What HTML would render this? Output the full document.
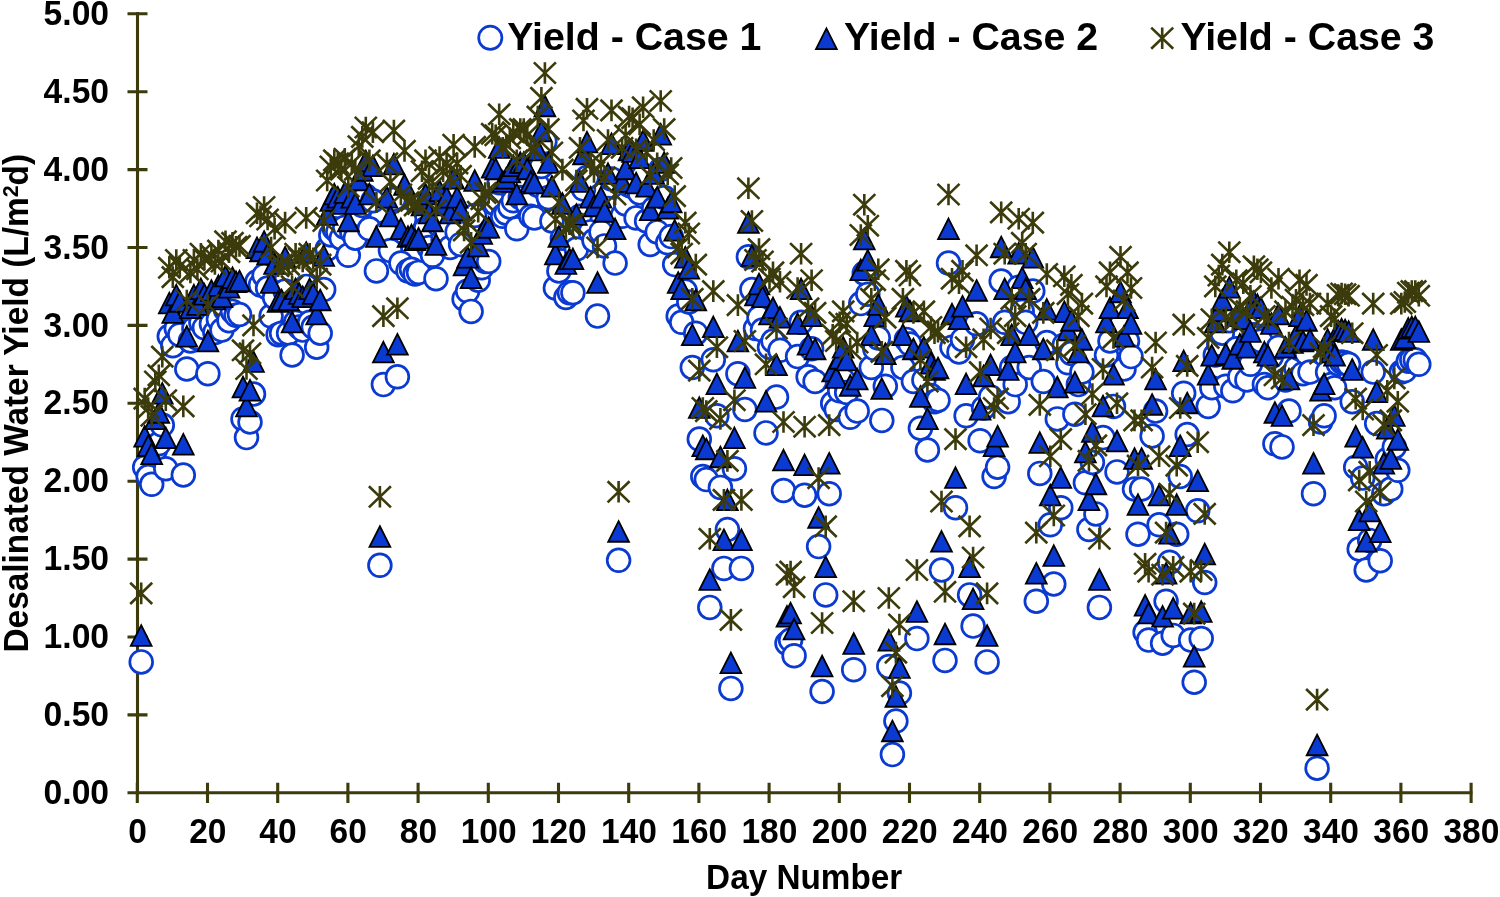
<!DOCTYPE html>
<html lang="en"><head><meta charset="utf-8"><title>Desalinated Water Yield</title>
<style>
html,body{margin:0;padding:0;background:#fff;}
body{width:1500px;height:897px;overflow:hidden;}
svg{display:block;filter:blur(0.5px);}
text{font-family:"Liberation Sans",Arial,sans-serif;font-weight:bold;fill:#000;}
.t{font-size:33.5px;}
.lg{font-size:39.3px;}
.c{fill:#fff;stroke:#0a3ad2;stroke-width:2.7;}
.tr{fill:#0a3ad2;stroke:#000;stroke-width:1.8;stroke-linejoin:miter;}
.a{stroke:#3b3b0b;stroke-width:2.6;fill:none;}
.ax{stroke:#3b3b0b;stroke-width:3.1;fill:none;}
</style></head><body>
<svg width="1500" height="897" viewBox="0 0 1500 897">
<rect width="1500" height="897" fill="#fff"/>
<defs>
<circle id="c" r="11.4" class="c"/>
<path id="t" class="tr" d="M0-9.75L10.4 10.85H-10.4Z"/>
<path id="s" class="a" d="M0-10.8V10.8M-11-10.6L11 10.6M11-10.6L-11 10.6"/>
</defs>
<path class="ax" d="M137.5 12.1V794.5M127.5 792.8H1472.8M127.5 792.8H147.5M127.5 714.9H147.5M127.5 637.0H147.5M127.5 559.1H147.5M127.5 481.2H147.5M127.5 403.3H147.5M127.5 325.4H147.5M127.5 247.5H147.5M127.5 169.6H147.5M127.5 91.7H147.5M127.5 13.8H147.5M137.3 782.8V803.1M207.5 782.8V803.1M277.7 782.8V803.1M347.9 782.8V803.1M418.1 782.8V803.1M488.3 782.8V803.1M558.5 782.8V803.1M628.7 782.8V803.1M698.9 782.8V803.1M769.1 782.8V803.1M839.3 782.8V803.1M909.5 782.8V803.1M979.7 782.8V803.1M1049.9 782.8V803.1M1120.1 782.8V803.1M1190.3 782.8V803.1M1260.5 782.8V803.1M1330.7 782.8V803.1M1400.9 782.8V803.1M1471.1 782.8V803.1"/>
<text class="t" transform="translate(109.1 803.9) scale(1.005 1.07)" text-anchor="end">0.00</text>
<text class="t" transform="translate(109.1 726.0) scale(1.005 1.07)" text-anchor="end">0.50</text>
<text class="t" transform="translate(109.1 648.1) scale(1.005 1.07)" text-anchor="end">1.00</text>
<text class="t" transform="translate(109.1 570.2) scale(1.005 1.07)" text-anchor="end">1.50</text>
<text class="t" transform="translate(109.1 492.3) scale(1.005 1.07)" text-anchor="end">2.00</text>
<text class="t" transform="translate(109.1 414.4) scale(1.005 1.07)" text-anchor="end">2.50</text>
<text class="t" transform="translate(109.1 336.5) scale(1.005 1.07)" text-anchor="end">3.00</text>
<text class="t" transform="translate(109.1 258.6) scale(1.005 1.07)" text-anchor="end">3.50</text>
<text class="t" transform="translate(109.1 180.7) scale(1.005 1.07)" text-anchor="end">4.00</text>
<text class="t" transform="translate(109.1 102.8) scale(1.005 1.07)" text-anchor="end">4.50</text>
<text class="t" transform="translate(109.1 24.9) scale(1.005 1.07)" text-anchor="end">5.00</text>
<text class="t" transform="translate(137.6 842.7) scale(1 1.07)" text-anchor="middle">0</text>
<text class="t" transform="translate(207.8 842.7) scale(1 1.07)" text-anchor="middle">20</text>
<text class="t" transform="translate(278.0 842.7) scale(1 1.07)" text-anchor="middle">40</text>
<text class="t" transform="translate(348.2 842.7) scale(1 1.07)" text-anchor="middle">60</text>
<text class="t" transform="translate(418.4 842.7) scale(1 1.07)" text-anchor="middle">80</text>
<text class="t" transform="translate(488.6 842.7) scale(1 1.07)" text-anchor="middle">100</text>
<text class="t" transform="translate(558.8 842.7) scale(1 1.07)" text-anchor="middle">120</text>
<text class="t" transform="translate(629.0 842.7) scale(1 1.07)" text-anchor="middle">140</text>
<text class="t" transform="translate(699.2 842.7) scale(1 1.07)" text-anchor="middle">160</text>
<text class="t" transform="translate(769.4 842.7) scale(1 1.07)" text-anchor="middle">180</text>
<text class="t" transform="translate(839.6 842.7) scale(1 1.07)" text-anchor="middle">200</text>
<text class="t" transform="translate(909.8 842.7) scale(1 1.07)" text-anchor="middle">220</text>
<text class="t" transform="translate(980.0 842.7) scale(1 1.07)" text-anchor="middle">240</text>
<text class="t" transform="translate(1050.2 842.7) scale(1 1.07)" text-anchor="middle">260</text>
<text class="t" transform="translate(1120.4 842.7) scale(1 1.07)" text-anchor="middle">280</text>
<text class="t" transform="translate(1190.6 842.7) scale(1 1.07)" text-anchor="middle">300</text>
<text class="t" transform="translate(1260.8 842.7) scale(1 1.07)" text-anchor="middle">320</text>
<text class="t" transform="translate(1331.0 842.7) scale(1 1.07)" text-anchor="middle">340</text>
<text class="t" transform="translate(1401.2 842.7) scale(1 1.07)" text-anchor="middle">360</text>
<text class="t" transform="translate(1471.4 842.7) scale(1 1.07)" text-anchor="middle">380</text>
<text class="t" transform="translate(804.2 889.1) scale(0.995 1.06)" text-anchor="middle">Day Number</text>
<text transform="translate(28 403.2) rotate(-90) scale(1 1.03)" font-size="33.4" text-anchor="middle">Desalinated Water Yield (L/m<tspan font-size="21.5" dy="-10">2</tspan><tspan dy="10">d)</tspan></text>
<g><use href="#c" x="141.2" y="661.9"/>
<use href="#c" x="144.7" y="467.2"/>
<use href="#c" x="148.2" y="476.5"/>
<use href="#c" x="151.7" y="484.3"/>
<use href="#c" x="155.3" y="450.0"/>
<use href="#c" x="158.8" y="443.8"/>
<use href="#c" x="162.3" y="425.1"/>
<use href="#c" x="165.8" y="468.7"/>
<use href="#c" x="169.3" y="336.3"/>
<use href="#c" x="172.8" y="345.7"/>
<use href="#c" x="176.3" y="328.5"/>
<use href="#c" x="179.8" y="334.7"/>
<use href="#c" x="183.3" y="475.0"/>
<use href="#c" x="186.8" y="369.0"/>
<use href="#c" x="190.4" y="341.0"/>
<use href="#c" x="193.9" y="328.5"/>
<use href="#c" x="197.4" y="337.9"/>
<use href="#c" x="200.9" y="322.3"/>
<use href="#c" x="204.4" y="327.7"/>
<use href="#c" x="207.9" y="373.7"/>
<use href="#c" x="211.4" y="323.8"/>
<use href="#c" x="214.9" y="332.4"/>
<use href="#c" x="218.4" y="319.2"/>
<use href="#c" x="221.9" y="330.1"/>
<use href="#c" x="225.5" y="309.8"/>
<use href="#c" x="229.0" y="320.7"/>
<use href="#c" x="232.5" y="311.4"/>
<use href="#c" x="236.0" y="315.3"/>
<use href="#c" x="239.5" y="314.5"/>
<use href="#c" x="243.0" y="418.9"/>
<use href="#c" x="246.5" y="437.6"/>
<use href="#c" x="250.0" y="422.0"/>
<use href="#c" x="253.5" y="394.0"/>
<use href="#c" x="257.0" y="281.8"/>
<use href="#c" x="260.5" y="284.9"/>
<use href="#c" x="264.1" y="275.5"/>
<use href="#c" x="267.6" y="288.0"/>
<use href="#c" x="271.1" y="316.1"/>
<use href="#c" x="274.6" y="297.4"/>
<use href="#c" x="278.1" y="334.7"/>
<use href="#c" x="281.6" y="333.2"/>
<use href="#c" x="285.1" y="291.1"/>
<use href="#c" x="288.6" y="333.2"/>
<use href="#c" x="292.1" y="355.0"/>
<use href="#c" x="295.6" y="322.3"/>
<use href="#c" x="299.2" y="327.0"/>
<use href="#c" x="302.7" y="330.1"/>
<use href="#c" x="306.2" y="286.4"/>
<use href="#c" x="309.7" y="322.3"/>
<use href="#c" x="313.2" y="327.0"/>
<use href="#c" x="316.7" y="347.2"/>
<use href="#c" x="320.2" y="333.2"/>
<use href="#c" x="323.7" y="289.6"/>
<use href="#c" x="327.2" y="249.1"/>
<use href="#c" x="330.8" y="235.0"/>
<use href="#c" x="334.3" y="228.8"/>
<use href="#c" x="337.8" y="231.9"/>
<use href="#c" x="341.3" y="238.2"/>
<use href="#c" x="344.8" y="227.2"/>
<use href="#c" x="348.3" y="255.3"/>
<use href="#c" x="351.8" y="231.9"/>
<use href="#c" x="355.3" y="238.2"/>
<use href="#c" x="358.8" y="214.8"/>
<use href="#c" x="362.3" y="205.4"/>
<use href="#c" x="365.8" y="196.1"/>
<use href="#c" x="369.4" y="228.8"/>
<use href="#c" x="372.9" y="200.8"/>
<use href="#c" x="376.4" y="270.9"/>
<use href="#c" x="379.9" y="565.3"/>
<use href="#c" x="383.4" y="384.6"/>
<use href="#c" x="386.9" y="231.9"/>
<use href="#c" x="390.4" y="250.6"/>
<use href="#c" x="393.9" y="199.2"/>
<use href="#c" x="397.4" y="376.8"/>
<use href="#c" x="400.9" y="263.1"/>
<use href="#c" x="404.5" y="219.5"/>
<use href="#c" x="408.0" y="270.9"/>
<use href="#c" x="411.5" y="269.3"/>
<use href="#c" x="415.0" y="274.0"/>
<use href="#c" x="418.5" y="272.4"/>
<use href="#c" x="422.0" y="239.7"/>
<use href="#c" x="425.5" y="228.8"/>
<use href="#c" x="429.0" y="247.5"/>
<use href="#c" x="432.5" y="255.3"/>
<use href="#c" x="436.0" y="278.7"/>
<use href="#c" x="439.6" y="225.7"/>
<use href="#c" x="443.1" y="239.7"/>
<use href="#c" x="446.6" y="231.9"/>
<use href="#c" x="450.1" y="247.5"/>
<use href="#c" x="453.6" y="213.2"/>
<use href="#c" x="457.1" y="231.9"/>
<use href="#c" x="460.6" y="244.4"/>
<use href="#c" x="464.1" y="298.9"/>
<use href="#c" x="467.6" y="291.1"/>
<use href="#c" x="471.1" y="311.4"/>
<use href="#c" x="474.7" y="215.4"/>
<use href="#c" x="478.2" y="280.2"/>
<use href="#c" x="481.7" y="267.8"/>
<use href="#c" x="485.2" y="261.5"/>
<use href="#c" x="488.7" y="261.5"/>
<use href="#c" x="492.2" y="202.3"/>
<use href="#c" x="495.7" y="203.9"/>
<use href="#c" x="499.2" y="182.8"/>
<use href="#c" x="502.7" y="216.3"/>
<use href="#c" x="506.2" y="213.2"/>
<use href="#c" x="509.8" y="207.0"/>
<use href="#c" x="513.3" y="200.8"/>
<use href="#c" x="516.8" y="228.8"/>
<use href="#c" x="520.3" y="197.6"/>
<use href="#c" x="523.8" y="197.6"/>
<use href="#c" x="527.3" y="203.9"/>
<use href="#c" x="530.8" y="216.3"/>
<use href="#c" x="534.3" y="217.9"/>
<use href="#c" x="537.8" y="185.2"/>
<use href="#c" x="541.4" y="166.5"/>
<use href="#c" x="544.9" y="141.6"/>
<use href="#c" x="548.4" y="197.6"/>
<use href="#c" x="551.9" y="221.0"/>
<use href="#c" x="555.4" y="288.0"/>
<use href="#c" x="558.9" y="270.9"/>
<use href="#c" x="562.4" y="238.2"/>
<use href="#c" x="565.9" y="297.4"/>
<use href="#c" x="569.4" y="292.7"/>
<use href="#c" x="572.9" y="292.7"/>
<use href="#c" x="576.4" y="249.1"/>
<use href="#c" x="580.0" y="216.3"/>
<use href="#c" x="583.5" y="189.1"/>
<use href="#c" x="587.0" y="177.4"/>
<use href="#c" x="590.5" y="231.9"/>
<use href="#c" x="594.0" y="240.5"/>
<use href="#c" x="597.5" y="316.1"/>
<use href="#c" x="601.0" y="231.9"/>
<use href="#c" x="604.5" y="245.9"/>
<use href="#c" x="608.0" y="208.5"/>
<use href="#c" x="611.5" y="178.9"/>
<use href="#c" x="615.1" y="263.1"/>
<use href="#c" x="618.6" y="560.3"/>
<use href="#c" x="622.1" y="216.3"/>
<use href="#c" x="625.6" y="203.9"/>
<use href="#c" x="629.1" y="185.2"/>
<use href="#c" x="632.6" y="186.7"/>
<use href="#c" x="636.1" y="217.9"/>
<use href="#c" x="639.6" y="193.0"/>
<use href="#c" x="643.1" y="175.8"/>
<use href="#c" x="646.6" y="221.0"/>
<use href="#c" x="650.2" y="244.4"/>
<use href="#c" x="653.7" y="208.5"/>
<use href="#c" x="657.2" y="231.9"/>
<use href="#c" x="660.7" y="169.6"/>
<use href="#c" x="664.2" y="197.6"/>
<use href="#c" x="667.7" y="242.8"/>
<use href="#c" x="671.2" y="236.6"/>
<use href="#c" x="674.7" y="264.6"/>
<use href="#c" x="678.2" y="316.1"/>
<use href="#c" x="681.7" y="322.3"/>
<use href="#c" x="685.3" y="291.1"/>
<use href="#c" x="688.8" y="302.0"/>
<use href="#c" x="692.3" y="367.5"/>
<use href="#c" x="695.8" y="333.2"/>
<use href="#c" x="699.3" y="439.1"/>
<use href="#c" x="702.8" y="476.5"/>
<use href="#c" x="706.3" y="479.6"/>
<use href="#c" x="709.8" y="607.4"/>
<use href="#c" x="713.3" y="359.7"/>
<use href="#c" x="716.9" y="415.8"/>
<use href="#c" x="720.4" y="487.4"/>
<use href="#c" x="723.9" y="568.4"/>
<use href="#c" x="727.4" y="529.5"/>
<use href="#c" x="730.9" y="688.4"/>
<use href="#c" x="734.4" y="468.7"/>
<use href="#c" x="737.9" y="373.7"/>
<use href="#c" x="741.4" y="568.4"/>
<use href="#c" x="744.9" y="409.5"/>
<use href="#c" x="748.4" y="256.8"/>
<use href="#c" x="751.9" y="289.6"/>
<use href="#c" x="755.5" y="328.5"/>
<use href="#c" x="759.0" y="317.6"/>
<use href="#c" x="762.5" y="330.1"/>
<use href="#c" x="766.0" y="432.9"/>
<use href="#c" x="769.5" y="347.2"/>
<use href="#c" x="773.0" y="341.0"/>
<use href="#c" x="776.5" y="397.1"/>
<use href="#c" x="780.0" y="350.3"/>
<use href="#c" x="783.5" y="490.5"/>
<use href="#c" x="787.0" y="643.2"/>
<use href="#c" x="790.6" y="640.1"/>
<use href="#c" x="794.1" y="655.7"/>
<use href="#c" x="797.6" y="356.6"/>
<use href="#c" x="801.1" y="322.3"/>
<use href="#c" x="804.6" y="495.2"/>
<use href="#c" x="808.1" y="376.8"/>
<use href="#c" x="811.6" y="348.8"/>
<use href="#c" x="815.1" y="381.5"/>
<use href="#c" x="818.6" y="546.6"/>
<use href="#c" x="822.1" y="691.5"/>
<use href="#c" x="825.7" y="594.9"/>
<use href="#c" x="829.2" y="493.7"/>
<use href="#c" x="832.7" y="403.3"/>
<use href="#c" x="836.2" y="409.5"/>
<use href="#c" x="839.7" y="390.8"/>
<use href="#c" x="843.2" y="379.9"/>
<use href="#c" x="846.7" y="392.4"/>
<use href="#c" x="850.2" y="417.3"/>
<use href="#c" x="853.7" y="669.7"/>
<use href="#c" x="857.2" y="411.1"/>
<use href="#c" x="860.8" y="303.6"/>
<use href="#c" x="864.3" y="273.2"/>
<use href="#c" x="867.8" y="294.2"/>
<use href="#c" x="871.3" y="367.5"/>
<use href="#c" x="874.8" y="348.8"/>
<use href="#c" x="878.3" y="337.9"/>
<use href="#c" x="881.8" y="420.4"/>
<use href="#c" x="885.3" y="386.2"/>
<use href="#c" x="888.8" y="666.6"/>
<use href="#c" x="892.4" y="754.6"/>
<use href="#c" x="895.9" y="721.1"/>
<use href="#c" x="899.4" y="693.1"/>
<use href="#c" x="902.9" y="367.5"/>
<use href="#c" x="906.4" y="339.4"/>
<use href="#c" x="909.9" y="344.1"/>
<use href="#c" x="913.4" y="381.5"/>
<use href="#c" x="916.9" y="638.6"/>
<use href="#c" x="920.4" y="428.2"/>
<use href="#c" x="923.9" y="379.9"/>
<use href="#c" x="927.4" y="450.0"/>
<use href="#c" x="931.0" y="395.5"/>
<use href="#c" x="934.5" y="401.7"/>
<use href="#c" x="938.0" y="400.2"/>
<use href="#c" x="941.5" y="570.0"/>
<use href="#c" x="945.0" y="660.4"/>
<use href="#c" x="948.5" y="263.1"/>
<use href="#c" x="952.0" y="347.2"/>
<use href="#c" x="955.5" y="507.7"/>
<use href="#c" x="959.0" y="351.9"/>
<use href="#c" x="962.5" y="339.4"/>
<use href="#c" x="966.1" y="415.8"/>
<use href="#c" x="969.6" y="594.9"/>
<use href="#c" x="973.1" y="626.1"/>
<use href="#c" x="976.6" y="323.8"/>
<use href="#c" x="980.1" y="440.7"/>
<use href="#c" x="983.6" y="408.0"/>
<use href="#c" x="987.1" y="661.9"/>
<use href="#c" x="990.6" y="397.1"/>
<use href="#c" x="994.1" y="476.5"/>
<use href="#c" x="997.6" y="467.2"/>
<use href="#c" x="1001.2" y="281.0"/>
<use href="#c" x="1004.7" y="322.3"/>
<use href="#c" x="1008.2" y="401.7"/>
<use href="#c" x="1011.7" y="367.5"/>
<use href="#c" x="1015.2" y="384.6"/>
<use href="#c" x="1018.7" y="287.2"/>
<use href="#c" x="1022.2" y="311.4"/>
<use href="#c" x="1025.7" y="322.3"/>
<use href="#c" x="1029.2" y="367.5"/>
<use href="#c" x="1032.8" y="291.1"/>
<use href="#c" x="1036.3" y="601.2"/>
<use href="#c" x="1039.8" y="473.4"/>
<use href="#c" x="1043.3" y="381.5"/>
<use href="#c" x="1046.8" y="342.5"/>
<use href="#c" x="1050.3" y="524.8"/>
<use href="#c" x="1053.8" y="584.0"/>
<use href="#c" x="1057.3" y="418.9"/>
<use href="#c" x="1060.8" y="507.7"/>
<use href="#c" x="1064.3" y="344.9"/>
<use href="#c" x="1067.9" y="362.8"/>
<use href="#c" x="1071.4" y="353.4"/>
<use href="#c" x="1074.9" y="414.2"/>
<use href="#c" x="1078.4" y="384.6"/>
<use href="#c" x="1081.9" y="372.1"/>
<use href="#c" x="1085.4" y="482.8"/>
<use href="#c" x="1088.9" y="529.5"/>
<use href="#c" x="1092.4" y="462.5"/>
<use href="#c" x="1095.9" y="513.9"/>
<use href="#c" x="1099.4" y="607.4"/>
<use href="#c" x="1103.0" y="437.6"/>
<use href="#c" x="1106.5" y="355.0"/>
<use href="#c" x="1110.0" y="341.0"/>
<use href="#c" x="1113.5" y="406.4"/>
<use href="#c" x="1117.0" y="471.9"/>
<use href="#c" x="1120.5" y="325.4"/>
<use href="#c" x="1124.0" y="369.0"/>
<use href="#c" x="1127.5" y="341.0"/>
<use href="#c" x="1131.0" y="356.6"/>
<use href="#c" x="1134.5" y="489.0"/>
<use href="#c" x="1138.0" y="534.2"/>
<use href="#c" x="1141.6" y="489.0"/>
<use href="#c" x="1145.1" y="632.3"/>
<use href="#c" x="1148.6" y="640.1"/>
<use href="#c" x="1152.1" y="436.0"/>
<use href="#c" x="1155.6" y="411.1"/>
<use href="#c" x="1159.1" y="524.8"/>
<use href="#c" x="1162.6" y="643.2"/>
<use href="#c" x="1166.1" y="601.2"/>
<use href="#c" x="1169.6" y="562.2"/>
<use href="#c" x="1173.2" y="635.4"/>
<use href="#c" x="1176.7" y="534.2"/>
<use href="#c" x="1180.2" y="476.5"/>
<use href="#c" x="1183.7" y="393.2"/>
<use href="#c" x="1187.2" y="434.5"/>
<use href="#c" x="1190.7" y="640.1"/>
<use href="#c" x="1194.2" y="682.2"/>
<use href="#c" x="1197.7" y="510.8"/>
<use href="#c" x="1201.2" y="638.6"/>
<use href="#c" x="1204.7" y="582.5"/>
<use href="#c" x="1208.2" y="406.4"/>
<use href="#c" x="1211.8" y="387.7"/>
<use href="#c" x="1215.3" y="355.0"/>
<use href="#c" x="1218.8" y="344.1"/>
<use href="#c" x="1222.3" y="333.2"/>
<use href="#c" x="1225.8" y="386.2"/>
<use href="#c" x="1229.3" y="320.7"/>
<use href="#c" x="1232.8" y="390.8"/>
<use href="#c" x="1236.3" y="348.8"/>
<use href="#c" x="1239.8" y="376.8"/>
<use href="#c" x="1243.3" y="351.9"/>
<use href="#c" x="1246.9" y="379.9"/>
<use href="#c" x="1250.4" y="364.3"/>
<use href="#c" x="1253.9" y="334.7"/>
<use href="#c" x="1257.4" y="337.9"/>
<use href="#c" x="1260.9" y="341.0"/>
<use href="#c" x="1264.4" y="384.6"/>
<use href="#c" x="1267.9" y="387.7"/>
<use href="#c" x="1271.4" y="356.6"/>
<use href="#c" x="1274.9" y="443.8"/>
<use href="#c" x="1278.5" y="347.2"/>
<use href="#c" x="1282.0" y="446.9"/>
<use href="#c" x="1285.5" y="379.9"/>
<use href="#c" x="1289.0" y="411.1"/>
<use href="#c" x="1292.5" y="375.3"/>
<use href="#c" x="1296.0" y="368.2"/>
<use href="#c" x="1299.5" y="348.8"/>
<use href="#c" x="1303.0" y="373.7"/>
<use href="#c" x="1306.5" y="353.4"/>
<use href="#c" x="1310.0" y="372.1"/>
<use href="#c" x="1313.5" y="493.7"/>
<use href="#c" x="1317.1" y="768.2"/>
<use href="#c" x="1320.6" y="422.0"/>
<use href="#c" x="1324.1" y="415.8"/>
<use href="#c" x="1327.6" y="372.1"/>
<use href="#c" x="1331.1" y="384.6"/>
<use href="#c" x="1334.6" y="387.7"/>
<use href="#c" x="1338.1" y="363.6"/>
<use href="#c" x="1341.6" y="362.0"/>
<use href="#c" x="1345.1" y="362.8"/>
<use href="#c" x="1348.6" y="364.3"/>
<use href="#c" x="1352.2" y="401.7"/>
<use href="#c" x="1355.7" y="467.2"/>
<use href="#c" x="1359.2" y="549.0"/>
<use href="#c" x="1362.7" y="478.1"/>
<use href="#c" x="1366.2" y="570.0"/>
<use href="#c" x="1369.7" y="540.4"/>
<use href="#c" x="1373.2" y="372.1"/>
<use href="#c" x="1376.7" y="423.6"/>
<use href="#c" x="1380.2" y="560.7"/>
<use href="#c" x="1383.8" y="493.7"/>
<use href="#c" x="1387.3" y="459.4"/>
<use href="#c" x="1390.8" y="489.0"/>
<use href="#c" x="1394.3" y="446.9"/>
<use href="#c" x="1397.8" y="470.3"/>
<use href="#c" x="1401.3" y="372.1"/>
<use href="#c" x="1404.8" y="370.6"/>
<use href="#c" x="1408.3" y="361.2"/>
<use href="#c" x="1411.8" y="359.7"/>
<use href="#c" x="1415.3" y="359.7"/>
<use href="#c" x="1418.8" y="364.3"/></g>
<g><use href="#t" x="141.2" y="635.0"/>
<use href="#t" x="144.7" y="435.7"/>
<use href="#t" x="148.2" y="445.2"/>
<use href="#t" x="151.7" y="453.2"/>
<use href="#t" x="155.3" y="418.2"/>
<use href="#t" x="158.8" y="411.9"/>
<use href="#t" x="162.3" y="392.8"/>
<use href="#t" x="165.8" y="437.3"/>
<use href="#t" x="169.3" y="302.5"/>
<use href="#t" x="172.8" y="312.0"/>
<use href="#t" x="176.3" y="294.6"/>
<use href="#t" x="179.8" y="300.9"/>
<use href="#t" x="183.3" y="443.7"/>
<use href="#t" x="186.8" y="335.8"/>
<use href="#t" x="190.4" y="307.3"/>
<use href="#t" x="193.9" y="294.6"/>
<use href="#t" x="197.4" y="304.1"/>
<use href="#t" x="200.9" y="288.3"/>
<use href="#t" x="204.4" y="293.8"/>
<use href="#t" x="207.9" y="340.5"/>
<use href="#t" x="211.4" y="289.9"/>
<use href="#t" x="214.9" y="298.6"/>
<use href="#t" x="218.4" y="285.1"/>
<use href="#t" x="221.9" y="296.2"/>
<use href="#t" x="225.5" y="275.6"/>
<use href="#t" x="229.0" y="286.7"/>
<use href="#t" x="232.5" y="277.2"/>
<use href="#t" x="236.0" y="281.2"/>
<use href="#t" x="239.5" y="280.4"/>
<use href="#t" x="243.0" y="386.5"/>
<use href="#t" x="246.5" y="405.5"/>
<use href="#t" x="250.0" y="389.7"/>
<use href="#t" x="253.5" y="361.1"/>
<use href="#t" x="257.0" y="247.2"/>
<use href="#t" x="260.5" y="250.4"/>
<use href="#t" x="264.1" y="240.9"/>
<use href="#t" x="267.6" y="253.5"/>
<use href="#t" x="271.1" y="282.0"/>
<use href="#t" x="274.6" y="263.0"/>
<use href="#t" x="278.1" y="300.9"/>
<use href="#t" x="281.6" y="299.4"/>
<use href="#t" x="285.1" y="256.7"/>
<use href="#t" x="288.6" y="299.4"/>
<use href="#t" x="292.1" y="321.5"/>
<use href="#t" x="295.6" y="288.3"/>
<use href="#t" x="299.2" y="293.0"/>
<use href="#t" x="302.7" y="296.2"/>
<use href="#t" x="306.2" y="251.9"/>
<use href="#t" x="309.7" y="288.3"/>
<use href="#t" x="313.2" y="293.0"/>
<use href="#t" x="316.7" y="313.6"/>
<use href="#t" x="320.2" y="299.4"/>
<use href="#t" x="323.7" y="255.1"/>
<use href="#t" x="327.2" y="214.1"/>
<use href="#t" x="330.8" y="199.9"/>
<use href="#t" x="334.3" y="193.6"/>
<use href="#t" x="337.8" y="196.7"/>
<use href="#t" x="341.3" y="203.0"/>
<use href="#t" x="344.8" y="192.0"/>
<use href="#t" x="348.3" y="220.4"/>
<use href="#t" x="351.8" y="196.7"/>
<use href="#t" x="355.3" y="203.0"/>
<use href="#t" x="358.8" y="179.4"/>
<use href="#t" x="362.3" y="169.9"/>
<use href="#t" x="365.8" y="160.5"/>
<use href="#t" x="369.4" y="193.6"/>
<use href="#t" x="372.9" y="165.2"/>
<use href="#t" x="376.4" y="236.1"/>
<use href="#t" x="379.9" y="536.0"/>
<use href="#t" x="383.4" y="351.6"/>
<use href="#t" x="386.9" y="196.7"/>
<use href="#t" x="390.4" y="215.6"/>
<use href="#t" x="393.9" y="163.6"/>
<use href="#t" x="397.4" y="343.7"/>
<use href="#t" x="400.9" y="228.3"/>
<use href="#t" x="404.5" y="184.1"/>
<use href="#t" x="408.0" y="236.1"/>
<use href="#t" x="411.5" y="234.6"/>
<use href="#t" x="415.0" y="239.3"/>
<use href="#t" x="418.5" y="237.7"/>
<use href="#t" x="422.0" y="204.6"/>
<use href="#t" x="425.5" y="193.6"/>
<use href="#t" x="429.0" y="212.5"/>
<use href="#t" x="432.5" y="220.4"/>
<use href="#t" x="436.0" y="244.0"/>
<use href="#t" x="439.6" y="190.4"/>
<use href="#t" x="443.1" y="204.6"/>
<use href="#t" x="446.6" y="196.7"/>
<use href="#t" x="450.1" y="212.5"/>
<use href="#t" x="453.6" y="177.8"/>
<use href="#t" x="457.1" y="196.7"/>
<use href="#t" x="460.6" y="209.3"/>
<use href="#t" x="464.1" y="264.6"/>
<use href="#t" x="467.6" y="256.7"/>
<use href="#t" x="471.1" y="277.2"/>
<use href="#t" x="474.7" y="180.0"/>
<use href="#t" x="478.2" y="245.6"/>
<use href="#t" x="481.7" y="233.0"/>
<use href="#t" x="485.2" y="226.7"/>
<use href="#t" x="488.7" y="226.7"/>
<use href="#t" x="492.2" y="166.8"/>
<use href="#t" x="495.7" y="168.4"/>
<use href="#t" x="499.2" y="147.1"/>
<use href="#t" x="502.7" y="181.0"/>
<use href="#t" x="506.2" y="177.8"/>
<use href="#t" x="509.8" y="171.5"/>
<use href="#t" x="513.3" y="165.2"/>
<use href="#t" x="516.8" y="193.6"/>
<use href="#t" x="520.3" y="162.1"/>
<use href="#t" x="523.8" y="162.1"/>
<use href="#t" x="527.3" y="168.4"/>
<use href="#t" x="530.8" y="181.0"/>
<use href="#t" x="534.3" y="182.5"/>
<use href="#t" x="537.8" y="149.5"/>
<use href="#t" x="541.4" y="130.6"/>
<use href="#t" x="544.9" y="105.4"/>
<use href="#t" x="548.4" y="162.1"/>
<use href="#t" x="551.9" y="185.7"/>
<use href="#t" x="555.4" y="253.5"/>
<use href="#t" x="558.9" y="236.1"/>
<use href="#t" x="562.4" y="203.0"/>
<use href="#t" x="565.9" y="263.0"/>
<use href="#t" x="569.4" y="258.3"/>
<use href="#t" x="572.9" y="258.3"/>
<use href="#t" x="576.4" y="214.1"/>
<use href="#t" x="580.0" y="181.0"/>
<use href="#t" x="583.5" y="153.4"/>
<use href="#t" x="587.0" y="141.6"/>
<use href="#t" x="590.5" y="196.7"/>
<use href="#t" x="594.0" y="205.4"/>
<use href="#t" x="597.5" y="282.0"/>
<use href="#t" x="601.0" y="196.7"/>
<use href="#t" x="604.5" y="210.9"/>
<use href="#t" x="608.0" y="173.1"/>
<use href="#t" x="611.5" y="143.2"/>
<use href="#t" x="615.1" y="228.3"/>
<use href="#t" x="618.6" y="530.9"/>
<use href="#t" x="622.1" y="181.0"/>
<use href="#t" x="625.6" y="168.4"/>
<use href="#t" x="629.1" y="149.5"/>
<use href="#t" x="632.6" y="151.0"/>
<use href="#t" x="636.1" y="182.5"/>
<use href="#t" x="639.6" y="157.3"/>
<use href="#t" x="643.1" y="140.0"/>
<use href="#t" x="646.6" y="185.7"/>
<use href="#t" x="650.2" y="209.3"/>
<use href="#t" x="653.7" y="173.1"/>
<use href="#t" x="657.2" y="196.7"/>
<use href="#t" x="660.7" y="133.7"/>
<use href="#t" x="664.2" y="162.1"/>
<use href="#t" x="667.7" y="207.7"/>
<use href="#t" x="671.2" y="201.4"/>
<use href="#t" x="674.7" y="229.8"/>
<use href="#t" x="678.2" y="282.0"/>
<use href="#t" x="681.7" y="288.3"/>
<use href="#t" x="685.3" y="256.7"/>
<use href="#t" x="688.8" y="267.7"/>
<use href="#t" x="692.3" y="334.2"/>
<use href="#t" x="695.8" y="299.4"/>
<use href="#t" x="699.3" y="407.1"/>
<use href="#t" x="702.8" y="445.2"/>
<use href="#t" x="706.3" y="448.4"/>
<use href="#t" x="709.8" y="579.1"/>
<use href="#t" x="713.3" y="326.3"/>
<use href="#t" x="716.9" y="383.3"/>
<use href="#t" x="720.4" y="456.4"/>
<use href="#t" x="723.9" y="539.2"/>
<use href="#t" x="727.4" y="499.3"/>
<use href="#t" x="730.9" y="662.3"/>
<use href="#t" x="734.4" y="437.3"/>
<use href="#t" x="737.9" y="340.5"/>
<use href="#t" x="741.4" y="539.2"/>
<use href="#t" x="744.9" y="377.0"/>
<use href="#t" x="748.4" y="221.9"/>
<use href="#t" x="751.9" y="255.1"/>
<use href="#t" x="755.5" y="294.6"/>
<use href="#t" x="759.0" y="283.5"/>
<use href="#t" x="762.5" y="296.2"/>
<use href="#t" x="766.0" y="400.8"/>
<use href="#t" x="769.5" y="313.6"/>
<use href="#t" x="773.0" y="307.3"/>
<use href="#t" x="776.5" y="364.3"/>
<use href="#t" x="780.0" y="316.8"/>
<use href="#t" x="783.5" y="459.6"/>
<use href="#t" x="787.0" y="615.8"/>
<use href="#t" x="790.6" y="612.6"/>
<use href="#t" x="794.1" y="628.6"/>
<use href="#t" x="797.6" y="323.1"/>
<use href="#t" x="801.1" y="288.3"/>
<use href="#t" x="804.6" y="464.3"/>
<use href="#t" x="808.1" y="343.7"/>
<use href="#t" x="811.6" y="315.2"/>
<use href="#t" x="815.1" y="348.4"/>
<use href="#t" x="818.6" y="516.9"/>
<use href="#t" x="822.1" y="665.5"/>
<use href="#t" x="825.7" y="566.3"/>
<use href="#t" x="829.2" y="462.7"/>
<use href="#t" x="832.7" y="370.6"/>
<use href="#t" x="836.2" y="377.0"/>
<use href="#t" x="839.7" y="357.9"/>
<use href="#t" x="843.2" y="346.8"/>
<use href="#t" x="846.7" y="359.5"/>
<use href="#t" x="850.2" y="384.9"/>
<use href="#t" x="853.7" y="643.0"/>
<use href="#t" x="857.2" y="378.6"/>
<use href="#t" x="860.8" y="269.3"/>
<use href="#t" x="864.3" y="238.5"/>
<use href="#t" x="867.8" y="259.8"/>
<use href="#t" x="871.3" y="334.2"/>
<use href="#t" x="874.8" y="315.2"/>
<use href="#t" x="878.3" y="304.1"/>
<use href="#t" x="881.8" y="388.1"/>
<use href="#t" x="885.3" y="353.2"/>
<use href="#t" x="888.8" y="639.8"/>
<use href="#t" x="892.4" y="730.4"/>
<use href="#t" x="895.9" y="695.9"/>
<use href="#t" x="899.4" y="667.1"/>
<use href="#t" x="902.9" y="334.2"/>
<use href="#t" x="906.4" y="305.7"/>
<use href="#t" x="909.9" y="310.4"/>
<use href="#t" x="913.4" y="348.4"/>
<use href="#t" x="916.9" y="611.0"/>
<use href="#t" x="920.4" y="396.0"/>
<use href="#t" x="923.9" y="346.8"/>
<use href="#t" x="927.4" y="418.2"/>
<use href="#t" x="931.0" y="362.7"/>
<use href="#t" x="934.5" y="369.0"/>
<use href="#t" x="938.0" y="367.4"/>
<use href="#t" x="941.5" y="540.8"/>
<use href="#t" x="945.0" y="633.4"/>
<use href="#t" x="948.5" y="228.3"/>
<use href="#t" x="952.0" y="313.6"/>
<use href="#t" x="955.5" y="477.1"/>
<use href="#t" x="959.0" y="318.3"/>
<use href="#t" x="962.5" y="305.7"/>
<use href="#t" x="966.1" y="383.3"/>
<use href="#t" x="969.6" y="566.3"/>
<use href="#t" x="973.1" y="598.3"/>
<use href="#t" x="976.6" y="289.9"/>
<use href="#t" x="980.1" y="408.7"/>
<use href="#t" x="983.6" y="375.4"/>
<use href="#t" x="987.1" y="635.0"/>
<use href="#t" x="990.6" y="364.3"/>
<use href="#t" x="994.1" y="445.2"/>
<use href="#t" x="997.6" y="435.7"/>
<use href="#t" x="1001.2" y="246.4"/>
<use href="#t" x="1004.7" y="288.3"/>
<use href="#t" x="1008.2" y="369.0"/>
<use href="#t" x="1011.7" y="334.2"/>
<use href="#t" x="1015.2" y="351.6"/>
<use href="#t" x="1018.7" y="252.7"/>
<use href="#t" x="1022.2" y="277.2"/>
<use href="#t" x="1025.7" y="288.3"/>
<use href="#t" x="1029.2" y="334.2"/>
<use href="#t" x="1032.8" y="256.7"/>
<use href="#t" x="1036.3" y="572.7"/>
<use href="#t" x="1039.8" y="442.1"/>
<use href="#t" x="1043.3" y="348.4"/>
<use href="#t" x="1046.8" y="308.8"/>
<use href="#t" x="1050.3" y="494.6"/>
<use href="#t" x="1053.8" y="555.1"/>
<use href="#t" x="1057.3" y="386.5"/>
<use href="#t" x="1060.8" y="477.1"/>
<use href="#t" x="1064.3" y="311.2"/>
<use href="#t" x="1067.9" y="329.4"/>
<use href="#t" x="1071.4" y="319.9"/>
<use href="#t" x="1074.9" y="381.7"/>
<use href="#t" x="1078.4" y="351.6"/>
<use href="#t" x="1081.9" y="338.9"/>
<use href="#t" x="1085.4" y="451.6"/>
<use href="#t" x="1088.9" y="499.3"/>
<use href="#t" x="1092.4" y="430.9"/>
<use href="#t" x="1095.9" y="483.4"/>
<use href="#t" x="1099.4" y="579.1"/>
<use href="#t" x="1103.0" y="405.5"/>
<use href="#t" x="1106.5" y="321.5"/>
<use href="#t" x="1110.0" y="307.3"/>
<use href="#t" x="1113.5" y="373.8"/>
<use href="#t" x="1117.0" y="440.5"/>
<use href="#t" x="1120.5" y="291.4"/>
<use href="#t" x="1124.0" y="335.8"/>
<use href="#t" x="1127.5" y="307.3"/>
<use href="#t" x="1131.0" y="323.1"/>
<use href="#t" x="1134.5" y="458.0"/>
<use href="#t" x="1138.0" y="504.1"/>
<use href="#t" x="1141.6" y="458.0"/>
<use href="#t" x="1145.1" y="604.7"/>
<use href="#t" x="1148.6" y="612.6"/>
<use href="#t" x="1152.1" y="403.9"/>
<use href="#t" x="1155.6" y="378.6"/>
<use href="#t" x="1159.1" y="494.6"/>
<use href="#t" x="1162.6" y="615.8"/>
<use href="#t" x="1166.1" y="572.7"/>
<use href="#t" x="1169.6" y="532.8"/>
<use href="#t" x="1173.2" y="607.8"/>
<use href="#t" x="1176.7" y="504.1"/>
<use href="#t" x="1180.2" y="445.2"/>
<use href="#t" x="1183.7" y="360.3"/>
<use href="#t" x="1187.2" y="402.4"/>
<use href="#t" x="1190.7" y="612.6"/>
<use href="#t" x="1194.2" y="655.8"/>
<use href="#t" x="1197.7" y="480.2"/>
<use href="#t" x="1201.2" y="611.0"/>
<use href="#t" x="1204.7" y="553.5"/>
<use href="#t" x="1208.2" y="373.8"/>
<use href="#t" x="1211.8" y="354.8"/>
<use href="#t" x="1215.3" y="321.5"/>
<use href="#t" x="1218.8" y="310.4"/>
<use href="#t" x="1222.3" y="299.4"/>
<use href="#t" x="1225.8" y="353.2"/>
<use href="#t" x="1229.3" y="286.7"/>
<use href="#t" x="1232.8" y="357.9"/>
<use href="#t" x="1236.3" y="315.2"/>
<use href="#t" x="1239.8" y="343.7"/>
<use href="#t" x="1243.3" y="318.3"/>
<use href="#t" x="1246.9" y="346.8"/>
<use href="#t" x="1250.4" y="331.0"/>
<use href="#t" x="1253.9" y="300.9"/>
<use href="#t" x="1257.4" y="304.1"/>
<use href="#t" x="1260.9" y="307.3"/>
<use href="#t" x="1264.4" y="351.6"/>
<use href="#t" x="1267.9" y="354.8"/>
<use href="#t" x="1271.4" y="323.1"/>
<use href="#t" x="1274.9" y="411.9"/>
<use href="#t" x="1278.5" y="313.6"/>
<use href="#t" x="1282.0" y="415.1"/>
<use href="#t" x="1285.5" y="346.8"/>
<use href="#t" x="1289.0" y="378.6"/>
<use href="#t" x="1292.5" y="342.1"/>
<use href="#t" x="1296.0" y="335.0"/>
<use href="#t" x="1299.5" y="315.2"/>
<use href="#t" x="1303.0" y="340.5"/>
<use href="#t" x="1306.5" y="319.9"/>
<use href="#t" x="1310.0" y="338.9"/>
<use href="#t" x="1313.5" y="462.7"/>
<use href="#t" x="1317.1" y="744.4"/>
<use href="#t" x="1320.6" y="389.7"/>
<use href="#t" x="1324.1" y="383.3"/>
<use href="#t" x="1327.6" y="338.9"/>
<use href="#t" x="1331.1" y="351.6"/>
<use href="#t" x="1334.6" y="354.8"/>
<use href="#t" x="1338.1" y="330.2"/>
<use href="#t" x="1341.6" y="328.6"/>
<use href="#t" x="1345.1" y="329.4"/>
<use href="#t" x="1348.6" y="331.0"/>
<use href="#t" x="1352.2" y="369.0"/>
<use href="#t" x="1355.7" y="435.7"/>
<use href="#t" x="1359.2" y="519.3"/>
<use href="#t" x="1362.7" y="446.8"/>
<use href="#t" x="1366.2" y="540.8"/>
<use href="#t" x="1369.7" y="510.5"/>
<use href="#t" x="1373.2" y="338.9"/>
<use href="#t" x="1376.7" y="391.2"/>
<use href="#t" x="1380.2" y="531.2"/>
<use href="#t" x="1383.8" y="462.7"/>
<use href="#t" x="1387.3" y="427.8"/>
<use href="#t" x="1390.8" y="458.0"/>
<use href="#t" x="1394.3" y="415.1"/>
<use href="#t" x="1397.8" y="438.9"/>
<use href="#t" x="1401.3" y="338.9"/>
<use href="#t" x="1404.8" y="337.3"/>
<use href="#t" x="1408.3" y="327.8"/>
<use href="#t" x="1411.8" y="326.3"/>
<use href="#t" x="1415.3" y="326.3"/>
<use href="#t" x="1418.8" y="331.0"/></g>
<g><use href="#s" x="141.2" y="593.4"/>
<use href="#s" x="144.7" y="398.6"/>
<use href="#s" x="148.2" y="408.0"/>
<use href="#s" x="151.7" y="415.8"/>
<use href="#s" x="155.3" y="381.5"/>
<use href="#s" x="158.8" y="375.3"/>
<use href="#s" x="162.3" y="356.6"/>
<use href="#s" x="165.8" y="400.2"/>
<use href="#s" x="169.3" y="267.8"/>
<use href="#s" x="172.8" y="277.1"/>
<use href="#s" x="176.3" y="260.0"/>
<use href="#s" x="179.8" y="266.2"/>
<use href="#s" x="183.3" y="406.4"/>
<use href="#s" x="186.8" y="300.5"/>
<use href="#s" x="190.4" y="272.4"/>
<use href="#s" x="193.9" y="260.0"/>
<use href="#s" x="197.4" y="269.3"/>
<use href="#s" x="200.9" y="253.7"/>
<use href="#s" x="204.4" y="259.2"/>
<use href="#s" x="207.9" y="305.1"/>
<use href="#s" x="211.4" y="255.3"/>
<use href="#s" x="214.9" y="263.9"/>
<use href="#s" x="218.4" y="250.6"/>
<use href="#s" x="221.9" y="261.5"/>
<use href="#s" x="225.5" y="241.3"/>
<use href="#s" x="229.0" y="252.2"/>
<use href="#s" x="232.5" y="242.8"/>
<use href="#s" x="236.0" y="246.7"/>
<use href="#s" x="239.5" y="245.9"/>
<use href="#s" x="243.0" y="350.3"/>
<use href="#s" x="246.5" y="369.0"/>
<use href="#s" x="250.0" y="353.4"/>
<use href="#s" x="253.5" y="325.4"/>
<use href="#s" x="257.0" y="213.2"/>
<use href="#s" x="260.5" y="216.3"/>
<use href="#s" x="264.1" y="207.0"/>
<use href="#s" x="267.6" y="219.5"/>
<use href="#s" x="271.1" y="247.5"/>
<use href="#s" x="274.6" y="228.8"/>
<use href="#s" x="278.1" y="266.2"/>
<use href="#s" x="281.6" y="264.6"/>
<use href="#s" x="285.1" y="222.6"/>
<use href="#s" x="288.6" y="264.6"/>
<use href="#s" x="292.1" y="286.4"/>
<use href="#s" x="295.6" y="253.7"/>
<use href="#s" x="299.2" y="258.4"/>
<use href="#s" x="302.7" y="261.5"/>
<use href="#s" x="306.2" y="217.9"/>
<use href="#s" x="309.7" y="253.7"/>
<use href="#s" x="313.2" y="258.4"/>
<use href="#s" x="316.7" y="278.7"/>
<use href="#s" x="320.2" y="264.6"/>
<use href="#s" x="323.7" y="221.0"/>
<use href="#s" x="327.2" y="180.5"/>
<use href="#s" x="330.8" y="166.5"/>
<use href="#s" x="334.3" y="160.3"/>
<use href="#s" x="337.8" y="163.4"/>
<use href="#s" x="341.3" y="169.6"/>
<use href="#s" x="344.8" y="158.7"/>
<use href="#s" x="348.3" y="186.7"/>
<use href="#s" x="351.8" y="163.4"/>
<use href="#s" x="355.3" y="169.6"/>
<use href="#s" x="358.8" y="146.2"/>
<use href="#s" x="362.3" y="136.9"/>
<use href="#s" x="365.8" y="127.5"/>
<use href="#s" x="369.4" y="160.3"/>
<use href="#s" x="372.9" y="132.2"/>
<use href="#s" x="376.4" y="202.3"/>
<use href="#s" x="379.9" y="496.8"/>
<use href="#s" x="383.4" y="316.1"/>
<use href="#s" x="386.9" y="163.4"/>
<use href="#s" x="390.4" y="182.1"/>
<use href="#s" x="393.9" y="130.6"/>
<use href="#s" x="397.4" y="308.3"/>
<use href="#s" x="400.9" y="194.5"/>
<use href="#s" x="404.5" y="150.9"/>
<use href="#s" x="408.0" y="202.3"/>
<use href="#s" x="411.5" y="200.8"/>
<use href="#s" x="415.0" y="205.4"/>
<use href="#s" x="418.5" y="203.9"/>
<use href="#s" x="422.0" y="171.2"/>
<use href="#s" x="425.5" y="160.3"/>
<use href="#s" x="429.0" y="178.9"/>
<use href="#s" x="432.5" y="186.7"/>
<use href="#s" x="436.0" y="210.1"/>
<use href="#s" x="439.6" y="157.1"/>
<use href="#s" x="443.1" y="171.2"/>
<use href="#s" x="446.6" y="163.4"/>
<use href="#s" x="450.1" y="178.9"/>
<use href="#s" x="453.6" y="144.7"/>
<use href="#s" x="457.1" y="163.4"/>
<use href="#s" x="460.6" y="175.8"/>
<use href="#s" x="464.1" y="230.4"/>
<use href="#s" x="467.6" y="222.6"/>
<use href="#s" x="471.1" y="242.8"/>
<use href="#s" x="474.7" y="146.9"/>
<use href="#s" x="478.2" y="211.7"/>
<use href="#s" x="481.7" y="199.2"/>
<use href="#s" x="485.2" y="193.0"/>
<use href="#s" x="488.7" y="193.0"/>
<use href="#s" x="492.2" y="133.8"/>
<use href="#s" x="495.7" y="135.3"/>
<use href="#s" x="499.2" y="114.3"/>
<use href="#s" x="502.7" y="147.8"/>
<use href="#s" x="506.2" y="144.7"/>
<use href="#s" x="509.8" y="138.4"/>
<use href="#s" x="513.3" y="132.2"/>
<use href="#s" x="516.8" y="160.3"/>
<use href="#s" x="520.3" y="129.1"/>
<use href="#s" x="523.8" y="129.1"/>
<use href="#s" x="527.3" y="135.3"/>
<use href="#s" x="530.8" y="147.8"/>
<use href="#s" x="534.3" y="149.3"/>
<use href="#s" x="537.8" y="116.6"/>
<use href="#s" x="541.4" y="97.9"/>
<use href="#s" x="544.9" y="73.0"/>
<use href="#s" x="548.4" y="129.1"/>
<use href="#s" x="551.9" y="152.5"/>
<use href="#s" x="555.4" y="219.5"/>
<use href="#s" x="558.9" y="202.3"/>
<use href="#s" x="562.4" y="169.6"/>
<use href="#s" x="565.9" y="228.8"/>
<use href="#s" x="569.4" y="224.1"/>
<use href="#s" x="572.9" y="224.1"/>
<use href="#s" x="576.4" y="180.5"/>
<use href="#s" x="580.0" y="147.8"/>
<use href="#s" x="583.5" y="120.5"/>
<use href="#s" x="587.0" y="108.8"/>
<use href="#s" x="590.5" y="163.4"/>
<use href="#s" x="594.0" y="171.9"/>
<use href="#s" x="597.5" y="247.5"/>
<use href="#s" x="601.0" y="163.4"/>
<use href="#s" x="604.5" y="177.4"/>
<use href="#s" x="608.0" y="140.0"/>
<use href="#s" x="611.5" y="110.4"/>
<use href="#s" x="615.1" y="194.5"/>
<use href="#s" x="618.6" y="491.8"/>
<use href="#s" x="622.1" y="147.8"/>
<use href="#s" x="625.6" y="135.3"/>
<use href="#s" x="629.1" y="116.6"/>
<use href="#s" x="632.6" y="118.2"/>
<use href="#s" x="636.1" y="149.3"/>
<use href="#s" x="639.6" y="124.4"/>
<use href="#s" x="643.1" y="107.3"/>
<use href="#s" x="646.6" y="152.5"/>
<use href="#s" x="650.2" y="175.8"/>
<use href="#s" x="653.7" y="140.0"/>
<use href="#s" x="657.2" y="163.4"/>
<use href="#s" x="660.7" y="101.0"/>
<use href="#s" x="664.2" y="129.1"/>
<use href="#s" x="667.7" y="174.3"/>
<use href="#s" x="671.2" y="168.0"/>
<use href="#s" x="674.7" y="196.1"/>
<use href="#s" x="678.2" y="247.5"/>
<use href="#s" x="681.7" y="253.7"/>
<use href="#s" x="685.3" y="222.6"/>
<use href="#s" x="688.8" y="233.5"/>
<use href="#s" x="692.3" y="298.9"/>
<use href="#s" x="695.8" y="264.6"/>
<use href="#s" x="699.3" y="370.6"/>
<use href="#s" x="702.8" y="408.0"/>
<use href="#s" x="706.3" y="411.1"/>
<use href="#s" x="709.8" y="538.8"/>
<use href="#s" x="713.3" y="291.1"/>
<use href="#s" x="716.9" y="347.2"/>
<use href="#s" x="720.4" y="418.9"/>
<use href="#s" x="723.9" y="499.9"/>
<use href="#s" x="727.4" y="460.9"/>
<use href="#s" x="730.9" y="619.9"/>
<use href="#s" x="734.4" y="400.2"/>
<use href="#s" x="737.9" y="305.1"/>
<use href="#s" x="741.4" y="499.9"/>
<use href="#s" x="744.9" y="341.0"/>
<use href="#s" x="748.4" y="188.3"/>
<use href="#s" x="751.9" y="221.0"/>
<use href="#s" x="755.5" y="260.0"/>
<use href="#s" x="759.0" y="249.1"/>
<use href="#s" x="762.5" y="261.5"/>
<use href="#s" x="766.0" y="364.3"/>
<use href="#s" x="769.5" y="278.7"/>
<use href="#s" x="773.0" y="272.4"/>
<use href="#s" x="776.5" y="328.5"/>
<use href="#s" x="780.0" y="281.8"/>
<use href="#s" x="783.5" y="422.0"/>
<use href="#s" x="787.0" y="574.7"/>
<use href="#s" x="790.6" y="571.6"/>
<use href="#s" x="794.1" y="587.1"/>
<use href="#s" x="797.6" y="288.0"/>
<use href="#s" x="801.1" y="253.7"/>
<use href="#s" x="804.6" y="426.7"/>
<use href="#s" x="808.1" y="308.3"/>
<use href="#s" x="811.6" y="280.2"/>
<use href="#s" x="815.1" y="312.9"/>
<use href="#s" x="818.6" y="478.1"/>
<use href="#s" x="822.1" y="623.0"/>
<use href="#s" x="825.7" y="526.4"/>
<use href="#s" x="829.2" y="425.1"/>
<use href="#s" x="832.7" y="334.7"/>
<use href="#s" x="836.2" y="341.0"/>
<use href="#s" x="839.7" y="322.3"/>
<use href="#s" x="843.2" y="311.4"/>
<use href="#s" x="846.7" y="323.8"/>
<use href="#s" x="850.2" y="348.8"/>
<use href="#s" x="853.7" y="601.2"/>
<use href="#s" x="857.2" y="342.5"/>
<use href="#s" x="860.8" y="235.0"/>
<use href="#s" x="864.3" y="204.7"/>
<use href="#s" x="867.8" y="225.7"/>
<use href="#s" x="871.3" y="298.9"/>
<use href="#s" x="874.8" y="280.2"/>
<use href="#s" x="878.3" y="269.3"/>
<use href="#s" x="881.8" y="351.9"/>
<use href="#s" x="885.3" y="317.6"/>
<use href="#s" x="888.8" y="598.0"/>
<use href="#s" x="892.4" y="686.1"/>
<use href="#s" x="895.9" y="652.6"/>
<use href="#s" x="899.4" y="624.5"/>
<use href="#s" x="902.9" y="298.9"/>
<use href="#s" x="906.4" y="270.9"/>
<use href="#s" x="909.9" y="275.5"/>
<use href="#s" x="913.4" y="312.9"/>
<use href="#s" x="916.9" y="570.0"/>
<use href="#s" x="920.4" y="359.7"/>
<use href="#s" x="923.9" y="311.4"/>
<use href="#s" x="927.4" y="381.5"/>
<use href="#s" x="931.0" y="327.0"/>
<use href="#s" x="934.5" y="333.2"/>
<use href="#s" x="938.0" y="331.6"/>
<use href="#s" x="941.5" y="501.5"/>
<use href="#s" x="945.0" y="591.8"/>
<use href="#s" x="948.5" y="194.5"/>
<use href="#s" x="952.0" y="278.7"/>
<use href="#s" x="955.5" y="439.1"/>
<use href="#s" x="959.0" y="283.3"/>
<use href="#s" x="962.5" y="270.9"/>
<use href="#s" x="966.1" y="347.2"/>
<use href="#s" x="969.6" y="526.4"/>
<use href="#s" x="973.1" y="557.5"/>
<use href="#s" x="976.6" y="255.3"/>
<use href="#s" x="980.1" y="372.1"/>
<use href="#s" x="983.6" y="339.4"/>
<use href="#s" x="987.1" y="593.4"/>
<use href="#s" x="990.6" y="328.5"/>
<use href="#s" x="994.1" y="408.0"/>
<use href="#s" x="997.6" y="398.6"/>
<use href="#s" x="1001.2" y="212.4"/>
<use href="#s" x="1004.7" y="253.7"/>
<use href="#s" x="1008.2" y="333.2"/>
<use href="#s" x="1011.7" y="298.9"/>
<use href="#s" x="1015.2" y="316.1"/>
<use href="#s" x="1018.7" y="218.7"/>
<use href="#s" x="1022.2" y="242.8"/>
<use href="#s" x="1025.7" y="253.7"/>
<use href="#s" x="1029.2" y="298.9"/>
<use href="#s" x="1032.8" y="222.6"/>
<use href="#s" x="1036.3" y="532.6"/>
<use href="#s" x="1039.8" y="404.9"/>
<use href="#s" x="1043.3" y="312.9"/>
<use href="#s" x="1046.8" y="274.0"/>
<use href="#s" x="1050.3" y="456.3"/>
<use href="#s" x="1053.8" y="515.5"/>
<use href="#s" x="1057.3" y="350.3"/>
<use href="#s" x="1060.8" y="439.1"/>
<use href="#s" x="1064.3" y="276.3"/>
<use href="#s" x="1067.9" y="294.2"/>
<use href="#s" x="1071.4" y="284.9"/>
<use href="#s" x="1074.9" y="345.7"/>
<use href="#s" x="1078.4" y="316.1"/>
<use href="#s" x="1081.9" y="303.6"/>
<use href="#s" x="1085.4" y="414.2"/>
<use href="#s" x="1088.9" y="460.9"/>
<use href="#s" x="1092.4" y="394.0"/>
<use href="#s" x="1095.9" y="445.4"/>
<use href="#s" x="1099.4" y="538.8"/>
<use href="#s" x="1103.0" y="369.0"/>
<use href="#s" x="1106.5" y="286.4"/>
<use href="#s" x="1110.0" y="272.4"/>
<use href="#s" x="1113.5" y="337.9"/>
<use href="#s" x="1117.0" y="403.3"/>
<use href="#s" x="1120.5" y="256.8"/>
<use href="#s" x="1124.0" y="300.5"/>
<use href="#s" x="1127.5" y="272.4"/>
<use href="#s" x="1131.0" y="288.0"/>
<use href="#s" x="1134.5" y="420.4"/>
<use href="#s" x="1138.0" y="465.6"/>
<use href="#s" x="1141.6" y="420.4"/>
<use href="#s" x="1145.1" y="563.8"/>
<use href="#s" x="1148.6" y="571.6"/>
<use href="#s" x="1152.1" y="367.5"/>
<use href="#s" x="1155.6" y="342.5"/>
<use href="#s" x="1159.1" y="456.3"/>
<use href="#s" x="1162.6" y="574.7"/>
<use href="#s" x="1166.1" y="532.6"/>
<use href="#s" x="1169.6" y="493.7"/>
<use href="#s" x="1173.2" y="566.9"/>
<use href="#s" x="1176.7" y="465.6"/>
<use href="#s" x="1180.2" y="408.0"/>
<use href="#s" x="1183.7" y="324.6"/>
<use href="#s" x="1187.2" y="365.9"/>
<use href="#s" x="1190.7" y="571.6"/>
<use href="#s" x="1194.2" y="613.6"/>
<use href="#s" x="1197.7" y="442.2"/>
<use href="#s" x="1201.2" y="570.0"/>
<use href="#s" x="1204.7" y="513.9"/>
<use href="#s" x="1208.2" y="337.9"/>
<use href="#s" x="1211.8" y="319.2"/>
<use href="#s" x="1215.3" y="286.4"/>
<use href="#s" x="1218.8" y="275.5"/>
<use href="#s" x="1222.3" y="264.6"/>
<use href="#s" x="1225.8" y="317.6"/>
<use href="#s" x="1229.3" y="252.2"/>
<use href="#s" x="1232.8" y="322.3"/>
<use href="#s" x="1236.3" y="280.2"/>
<use href="#s" x="1239.8" y="308.3"/>
<use href="#s" x="1243.3" y="283.3"/>
<use href="#s" x="1246.9" y="311.4"/>
<use href="#s" x="1250.4" y="295.8"/>
<use href="#s" x="1253.9" y="266.2"/>
<use href="#s" x="1257.4" y="269.3"/>
<use href="#s" x="1260.9" y="272.4"/>
<use href="#s" x="1264.4" y="316.1"/>
<use href="#s" x="1267.9" y="319.2"/>
<use href="#s" x="1271.4" y="288.0"/>
<use href="#s" x="1274.9" y="375.3"/>
<use href="#s" x="1278.5" y="278.7"/>
<use href="#s" x="1282.0" y="378.4"/>
<use href="#s" x="1285.5" y="311.4"/>
<use href="#s" x="1289.0" y="342.5"/>
<use href="#s" x="1292.5" y="306.7"/>
<use href="#s" x="1296.0" y="299.7"/>
<use href="#s" x="1299.5" y="280.2"/>
<use href="#s" x="1303.0" y="305.1"/>
<use href="#s" x="1306.5" y="284.9"/>
<use href="#s" x="1310.0" y="303.6"/>
<use href="#s" x="1313.5" y="425.1"/>
<use href="#s" x="1317.1" y="699.6"/>
<use href="#s" x="1320.6" y="353.4"/>
<use href="#s" x="1324.1" y="347.2"/>
<use href="#s" x="1327.6" y="303.6"/>
<use href="#s" x="1331.1" y="316.1"/>
<use href="#s" x="1334.6" y="319.2"/>
<use href="#s" x="1338.1" y="295.0"/>
<use href="#s" x="1341.6" y="293.5"/>
<use href="#s" x="1345.1" y="294.2"/>
<use href="#s" x="1348.6" y="295.8"/>
<use href="#s" x="1352.2" y="333.2"/>
<use href="#s" x="1355.7" y="398.6"/>
<use href="#s" x="1359.2" y="480.4"/>
<use href="#s" x="1362.7" y="409.5"/>
<use href="#s" x="1366.2" y="501.5"/>
<use href="#s" x="1369.7" y="471.9"/>
<use href="#s" x="1373.2" y="303.6"/>
<use href="#s" x="1376.7" y="355.0"/>
<use href="#s" x="1380.2" y="492.1"/>
<use href="#s" x="1383.8" y="425.1"/>
<use href="#s" x="1387.3" y="390.8"/>
<use href="#s" x="1390.8" y="420.4"/>
<use href="#s" x="1394.3" y="378.4"/>
<use href="#s" x="1397.8" y="401.7"/>
<use href="#s" x="1401.3" y="303.6"/>
<use href="#s" x="1404.8" y="302.0"/>
<use href="#s" x="1408.3" y="292.7"/>
<use href="#s" x="1411.8" y="291.1"/>
<use href="#s" x="1415.3" y="291.1"/>
<use href="#s" x="1418.8" y="295.8"/></g>
<circle cx="490.3" cy="37.8" r="11.6" class="c"/>
<text class="lg" x="507.3" y="49.8">Yield - Case 1</text>
<use href="#t" x="826.4" y="38.2"/>
<text class="lg" x="844.1" y="49.8">Yield - Case 2</text>
<use href="#s" x="1162.2" y="38.2"/>
<text class="lg" x="1180.4" y="49.8">Yield - Case 3</text>
</svg>
</body></html>
